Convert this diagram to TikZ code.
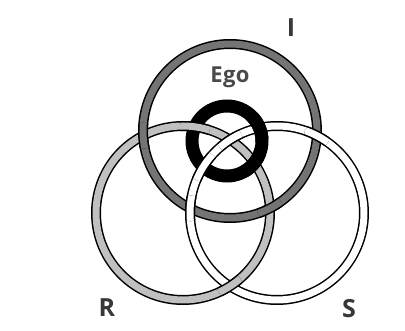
\documentclass[tikz,border=0pt]{standalone}
\usepackage{fontspec}
\setmainfont{Open Sans}
\definecolor{ringI}{HTML}{747474}
\definecolor{ringR}{HTML}{C0C0C0}
\definecolor{ringS}{HTML}{FFFFFF}
\definecolor{labelcol}{HTML}{383838}
\definecolor{egocol}{HTML}{4A4A4A}
\tikzset{
  bandout/.style={draw=black, line width=10pt},
  bandfill/.style={line width=7pt},
  egoband/.style={draw=black, line width=13pt},
  lbl/.style={text=labelcol, font=\bfseries\fontsize{25}{25}\selectfont, anchor=base, inner sep=0pt},
}
\newcommand\RingI{\draw[bandout] (230,131) circle[radius=87]; \draw[bandfill, draw=ringI] (230,131) circle[radius=87];}
\newcommand\RingR{\draw[bandout] (183,213) circle[radius=87]; \draw[bandfill, draw=ringR] (183,213) circle[radius=87];}
\newcommand\RingS{\draw[bandout] (277,213) circle[radius=87]; \draw[bandfill, draw=ringS] (277,213) circle[radius=87];}
\newcommand\RingEgo{\draw[egoband] (227,141) circle[radius=35];}
\newcommand\Patch[3]{\begin{scope}\clip (#1) circle[radius=#2]; #3\end{scope}}
\begin{document}
\begin{tikzpicture}[x=1pt, y=-1pt]
  \useasboundingbox[fill=white] (0,0) rectangle (405,331);
  % base rings
  \RingI
  \RingR
  \RingS
  \RingEgo
  % over/under crossings
  \Patch{143.1,135.7}{13}{\RingI}   % I over R
  \Patch{269.9,208.3}{13}{\RingI}   % I over R
  \Patch{316.9,135.7}{13}{\RingS}   % S over I
  \Patch{190.1,208.3}{13}{\RingS}   % S over I
  \Patch{230,286.2}{13}{\RingR}     % R over S
  \Patch{230,139.8}{13}{\RingS}     % S over R
  \Patch{195.0,126.8}{15}{\RingR}   % R over Ego
  \Patch{254.2,163.0}{15}{\RingEgo} % Ego over R
  \Patch{259.4,127.8}{15}{\RingEgo} % Ego over S
  \Patch{203.3,166.8}{15}{\RingS}   % S over Ego
  % labels
  \node[lbl] (labI) at (291,37) {I};
  \node[lbl] (labR) at (107,317) {R};
  \node[lbl] (labS) at (349,318) {S};
  \node[anchor=base, inner sep=0pt, text=egocol, font=\bfseries\fontsize{22}{22}\selectfont\addfontfeature{LetterSpace=2}] (labEgo) at (230,83) {Ego};
\end{tikzpicture}
\end{document}
